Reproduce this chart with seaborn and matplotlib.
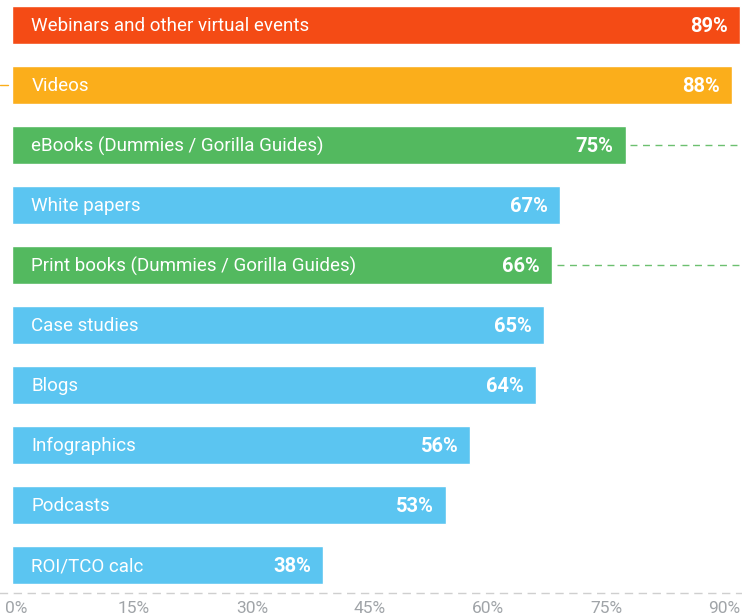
import matplotlib
matplotlib.use("Agg")
import matplotlib.pyplot as plt
import seaborn as sns
import pandas as pd

# data
categories = [
    "Webinars and other virtual events",
    "Videos",
    "eBooks (Dummies / Gorilla Guides)",
    "White papers",
    "Print books (Dummies / Gorilla Guides)",
    "Case studies",
    "Blogs",
    "Infographics",
    "Podcasts",
    "ROI/TCO calc",
]
values = [89, 88, 75, 67, 66, 65, 64, 56, 53, 38]
bar_colors = ["#F44B15", "#FBAE1B", "#53B95F", "#5BC5F1", "#53B95F",
              "#5BC5F1", "#5BC5F1", "#5BC5F1", "#5BC5F1", "#5BC5F1"]
tick_values = [0, 15, 30, 45, 60, 75, 90]
tick_labels = [f"{t}%" for t in tick_values]

df = pd.DataFrame({"category": categories, "value": values})

sns.set_theme(style="white")
plt.rcParams["font.family"] = ["Roboto", "DejaVu Sans"]

fig = plt.figure(figsize=(7.42, 6.15), dpi=100)
ax = fig.add_axes([0, 22 / 615, 1, 593 / 615])

sns.barplot(data=df, y="category", x="value", hue="category",
            palette=bar_colors, legend=False, orient="h",
            width=38 / 60, saturation=1, ax=ax)

ax.set_xlim(-12 / 8.18, 730 / 8.18)
ax.set_ylim((593 - 25) / 60, -25 / 60)

for i, (cat, v) in enumerate(zip(categories, values)):
    ax.annotate(cat, (0, i), xytext=(14, -1), textcoords="offset points",
                ha="left", va="center", color="white", fontsize=13.5)
    ax.annotate(f"{v}%", (v, i), xytext=(-8.5, -1), textcoords="offset points",
                ha="right", va="center", color="white", fontsize=14.5,
                fontweight="bold")

# leader lines going off to the right / left
for i in [2, 4]:
    ax.plot([values[i] + 0.6, ax.get_xlim()[1]], [i, i], color="#6CC070",
            lw=1, ls=(0, (5, 4)))
ax.plot([ax.get_xlim()[0], -0.5], [1, 1], color="#FBAE1B", lw=1)

ax.set_xlabel("")
ax.set_ylabel("")
ax.set_xticks([])
ax.set_yticks([])
for s in ["top", "left", "right"]:
    ax.spines[s].set_visible(False)
ax.spines["bottom"].set_color("#CFCFCF")
ax.spines["bottom"].set_linestyle((0, (5, 5)))
ax.spines["bottom"].set_linewidth(1)

# percent scale along the bottom
ax2 = ax.twiny()
ax2.set_xlim(-16 / 7.867, 726 / 7.867)
ax2.xaxis.set_ticks_position("bottom")
ax2.set_xticks(tick_values)
ax2.set_xticklabels(tick_labels)
ax2.tick_params(axis="x", length=0, pad=6, labelsize=12.5, labelcolor="#A0A4A8")
for s in ax2.spines.values():
    s.set_visible(False)

fig.savefig("out.png", dpi=100)
